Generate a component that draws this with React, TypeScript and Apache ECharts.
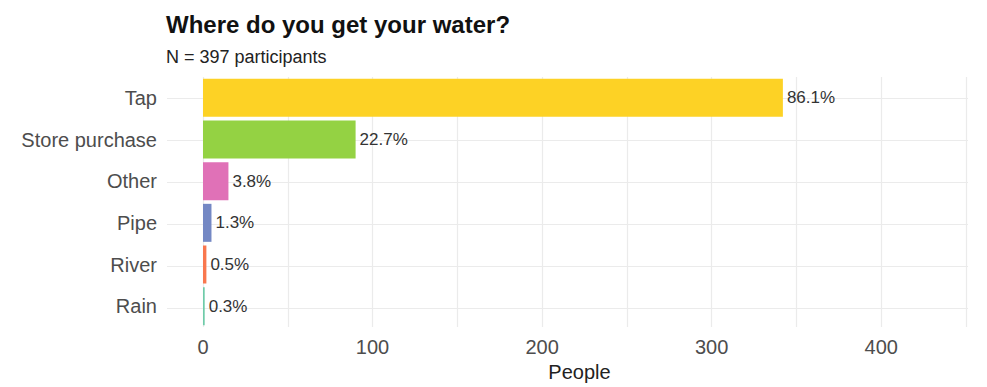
import React, { useEffect, useRef } from "react";
import * as echarts from "echarts";

const categories = ["Tap", "Store purchase", "Other", "Pipe", "River", "Rain"];
const people = [342, 90, 15, 5, 2, 1];
const percentLabels = ["86.1%", "22.7%", "3.8%", "1.3%", "0.5%", "0.3%"];
const barColors = ["#FDD225", "#94D243", "#E071B7", "#7488C4", "#F9774E", "#6FCBA9"];
const xTicks = [0, 100, 200, 300, 400];

export default function App() {
  const ref = useRef<HTMLDivElement>(null);
  useEffect(() => {
    document.body.style.margin = "0";
    const chart = echarts.init(ref.current!, null, { renderer: "svg" });
    const font = "'Liberation Sans', Arial, Helvetica, sans-serif";
    chart.setOption({
      animation: false,
      textStyle: { fontFamily: font },
      title: [
        {
          text: "Where do you get your water?",
          left: 161,
          top: 7,
          textStyle: { fontFamily: font, fontSize: 24, fontWeight: "bold", color: "#111" },
        },
        {
          text: "N = 397 participants",
          left: 161,
          top: 43,
          textStyle: { fontFamily: font, fontSize: 18, fontWeight: "normal", color: "#222" },
        },
      ],
      grid: [
        { left: 203, right: 21, top: 77, bottom: 58 },
        { left: 167, right: 19, top: 98, bottom: 79 },
      ],
      xAxis: [
        {
          type: "value",
          gridIndex: 0,
          min: 0,
          max: 450,
          interval: 50,
          axisLine: { show: false },
          axisTick: { show: false },
          splitLine: { show: true, lineStyle: { color: "#ebebeb", width: 1.2 } },
          axisLabel: {
            margin: 10,
            fontSize: 20,
            color: "#4d4d4d",
            fontFamily: font,
            showMaxLabel: false,
            formatter: (v: number) => (xTicks.includes(v) ? String(v) : ""),
          },
          name: "People",
          nameLocation: "middle",
          nameGap: 35,
          nameTextStyle: { fontSize: 20, color: "#222", fontFamily: font, padding: [0, 10, 0, 0] },
        },
        { type: "value", gridIndex: 1, show: false, min: 0, max: 1 },
      ],
      yAxis: [
        {
          type: "category",
          gridIndex: 0,
          data: categories,
          inverse: true,
          axisLine: { show: false },
          axisTick: { show: false },
          splitLine: { show: false },
          axisLabel: { margin: 46, fontSize: 20, color: "#4d4d4d", fontFamily: font },
        },
        {
          type: "category",
          gridIndex: 1,
          data: categories,
          inverse: true,
          boundaryGap: false,
          axisLine: { show: false },
          axisTick: { show: false },
          axisLabel: { show: false },
          splitLine: { show: true, lineStyle: { color: "#ebebeb", width: 1.2 } },
        },
      ],
      series: [
        {
          type: "bar",
          xAxisIndex: 0,
          yAxisIndex: 0,
          barWidth: 38,
          z: 5,
          data: people.map((v, i) => ({ value: v, itemStyle: { color: barColors[i] } })),
          label: {
            show: true,
            position: "right",
            distance: 4,
            fontSize: 17,
            color: "#333",
            fontFamily: font,
            formatter: (p: any) => percentLabels[p.dataIndex],
          },
        },
      ],
    });
    return () => chart.dispose();
  }, []);
  return <div ref={ref} style={{ width: 987, height: 387 }} />;
}
